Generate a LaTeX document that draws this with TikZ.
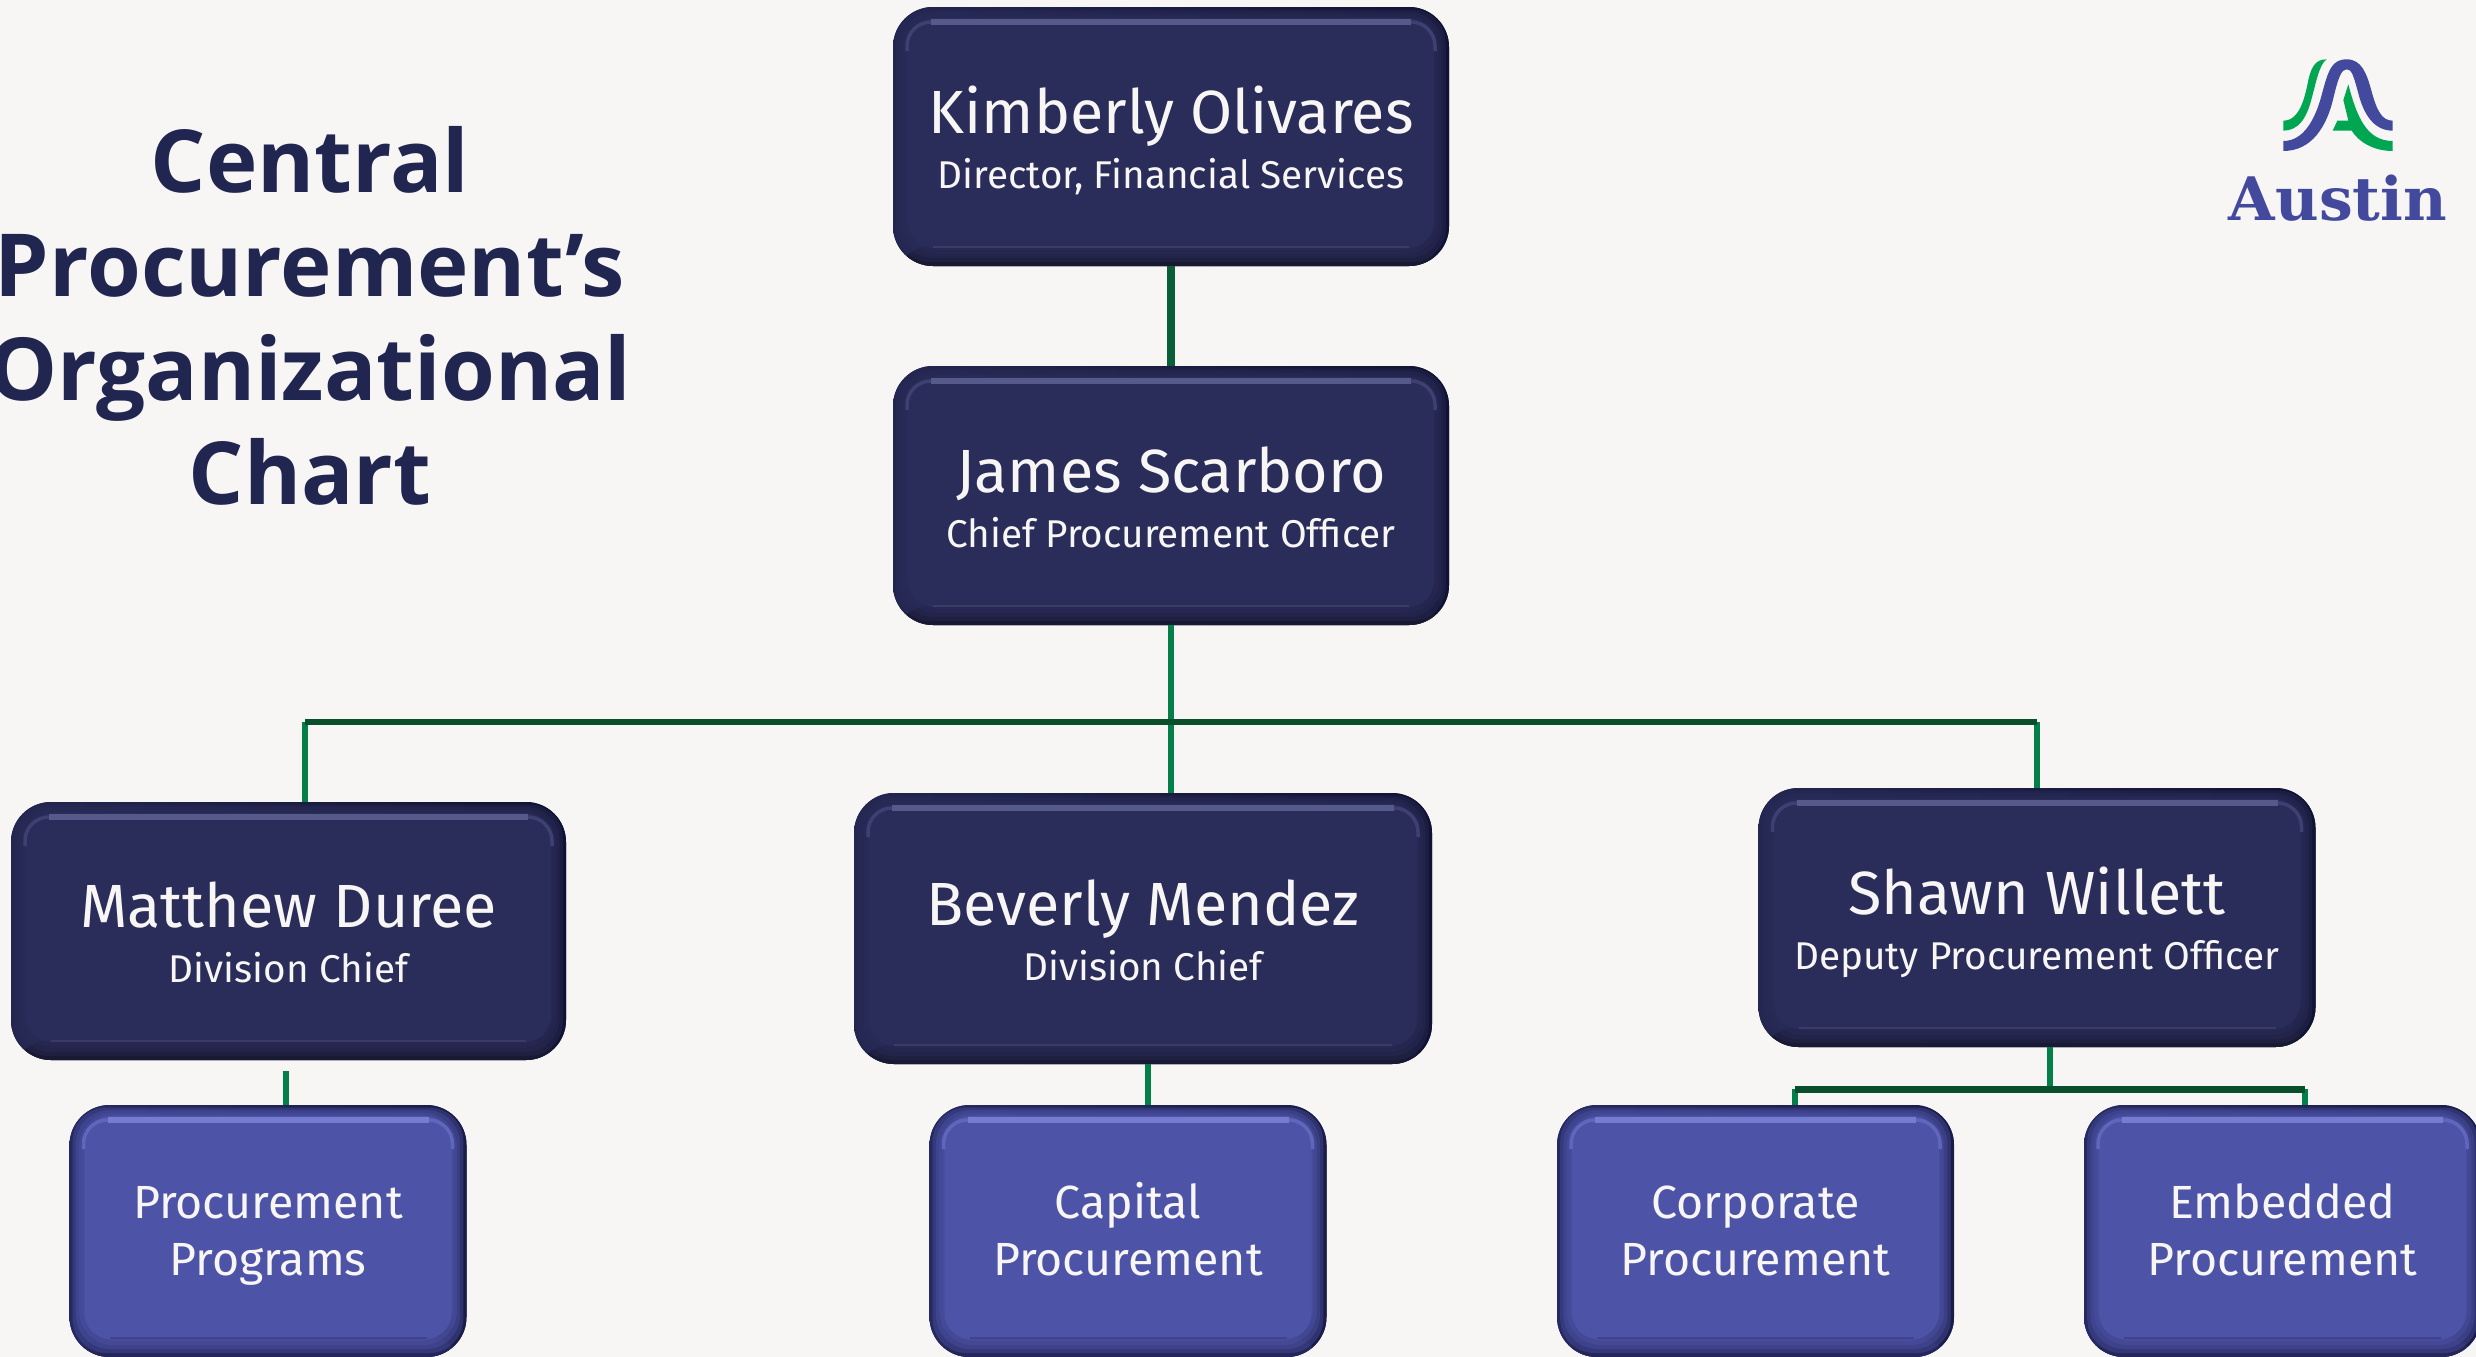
\documentclass[tikz,border=0pt]{standalone}
\usepackage{fontspec}
\setmainfont{Fira Sans}
\newfontfamily\titlefont{Open Sans}
\newfontfamily\logofont{DejaVu Serif}
\definecolor{pagebg}{HTML}{F7F6F4}
\definecolor{navy}{HTML}{2A2C59}
\definecolor{violet}{HTML}{4D53A7}
\definecolor{titlecol}{HTML}{20264F}
\definecolor{lineg}{HTML}{057F4A}
\definecolor{topg}{HTML}{0A5F38}
\definecolor{busg}{HTML}{0A4F2C}
\definecolor{logob}{HTML}{434A9E}
\definecolor{logog}{HTML}{00A651}
\definecolor{navyl}{HTML}{232650}
\definecolor{navyr}{HTML}{111333}
\definecolor{navyb}{HTML}{181932}
\definecolor{navyh}{HTML}{565A8A}
\definecolor{navym}{HTML}{3D4070}
\definecolor{navys}{HTML}{3A3C66}
\definecolor{violl}{HTML}{262A62}
\definecolor{violr}{HTML}{1A1D48}
\definecolor{violb}{HTML}{25275A}
\definecolor{violh}{HTML}{767CD0}
\definecolor{violm}{HTML}{6066BC}
\definecolor{viols}{HTML}{41448C}
\newcommand{\leadtxt}[2]{\fontsize{61}{55}\selectfont\rule{0pt}{62pt}#1\\\fontsize{38.7}{55}\selectfont #2\rule[-14pt]{0pt}{14pt}}
\newcommand{\unittxt}[2]{\rule{0pt}{45pt}#1\\#2\rule[-14pt]{0pt}{14pt}}
\tikzset{
  bevel/.style n args={7}{rounded corners=40pt, inner sep=0pt, align=center, text=pagebg, fill=#2,
    path picture={
      \coordinate (NW) at (path picture bounding box.north west);
      \coordinate (NE) at (path picture bounding box.north east);
      \coordinate (SW) at (path picture bounding box.south west);
      \coordinate (SE) at (path picture bounding box.south east);
      \shade[left color=#2, right color=#3] (SW) rectangle (NE);
      \fill[#4] (SW) rectangle ([yshift=20pt]SE);
      \foreach \k in {1,...,4} {
        \fill[#1, opacity=.4, rounded corners=34pt] ([xshift=\k*3.2pt,yshift=\k*4pt]SW) rectangle ([xshift=-\k*3.2pt,yshift=-\k*2.5pt]NE);
      }
      \fill[#1, rounded corners=26pt] ([xshift=15pt,yshift=18pt]SW) rectangle ([xshift=-15pt,yshift=-11pt]NE);
      \draw[#6, line width=3.5pt, rounded corners=24pt] ([xshift=14pt,yshift=-44pt]NW) |- ([xshift=-14pt,yshift=-15pt]NE) -- ([xshift=-14pt,yshift=-44pt]NE);
      \draw[#5, line width=6pt] ([xshift=38pt,yshift=-15pt]NW) -- ([xshift=-38pt,yshift=-15pt]NE);
      \draw[#7, line width=2.5pt] ([xshift=40pt,yshift=19pt]SW) -- ([xshift=-40pt,yshift=19pt]SE);
    }},
  leadbox/.style={bevel={navy}{navyl}{navyr}{navyb}{navyh}{navym}{navys}, font=\fontsize{38.7}{55}\selectfont},
  unitbox/.style={bevel={violet}{violl}{violr}{violb}{violh}{violm}{viols},
    font=\fontsize{46.5}{57}\selectfont, minimum width=397pt, minimum height=252pt},
  vline/.style={lineg, line width=6pt},
  busline/.style={busg, line width=6.5pt},
}
\begin{document}
\begin{tikzpicture}[x=1pt,y=-1pt]
\useasboundingbox (0,0) rectangle (2476,1357);
\clip (0,0) rectangle (2476,1357);
\fill[pagebg] (0,0) rectangle (2476,1357);

\node[leadbox, minimum width=556pt, minimum height=259pt] (kim) at (1171,136.5) {\leadtxt{Kimberly Olivares}{Director, Financial Services}};
\node[leadbox, minimum width=556pt, minimum height=259pt] (james) at (1171,495.5) {\leadtxt{James Scarboro}{Chief Procurement Officer}};
\node[leadbox, minimum width=555pt, minimum height=258pt] (matthew) at (288.5,931) {\leadtxt{Matthew Duree}{Division Chief}};
\node[leadbox, minimum width=578pt, minimum height=271pt] (beverly) at (1143,928.5) {\leadtxt{Beverly Mendez}{Division Chief}};
\node[leadbox, minimum width=557pt, minimum height=259pt] (shawn) at (2037,917.5) {\leadtxt{Shawn Willett}{Deputy Procurement Officer}};
\node[unitbox] (programs) at (268,1231) {\unittxt{Procurement}{Programs}};
\node[unitbox] (capital) at (1128,1231) {\unittxt{Capital}{Procurement}};
\node[unitbox] (corporate) at (1755.5,1231) {\unittxt{Corporate}{Procurement}};
\node[unitbox] (embedded) at (2282.5,1231) {\unittxt{Embedded}{Procurement}};

\coordinate (busL) at (305,722);
\coordinate (busM) at (1171,722);
\coordinate (busR) at (2037,722);
\coordinate (stubA) at (285.5,1071);
\coordinate (stubB) at (1148,1064);
\coordinate (stubC) at (2050,1047);
\coordinate (barC) at (2050,1089);
\coordinate (barL) at (1795,1089);
\coordinate (barR) at (2305,1089);

\draw[topg, line width=7.5pt] (kim.south) -- (james.north);
\draw[vline] (james.south) -- (james.south |- beverly.north);
\draw[vline] (busL) -- (busL |- matthew.north);
\draw[vline] (busR) -- (shawn.north);
\draw[busline] (busL) -- (busM) -- (busR);
\draw[vline] (stubA) -- (stubA |- programs.north);
\draw[vline] (stubB) -- (stubB |- capital.north);
\draw[vline] (stubC) -- (barC);
\draw[vline] (barL) -- (barL |- corporate.north);
\draw[vline] (barR) -- (barR |- embedded.north);
\draw[busline, line width=7pt] (barL) -- (barC) -- (barR);

% title
\node[text=titlecol, align=center, font=\fontsize{87}{104}\selectfont\titlefont\bfseries] (title) at (310,316)
  {Central\\Procurement’s\\Organizational\\Chart};

% logo
\begin{scope}[shift={(2200,30)}, x=0.33333pt, y=-0.33333pt]
  \fill[logog] (250,272) .. controls (300,272) and (315,200) .. (325,150)
     .. controls (335,105) and (350,88) .. (380,88)
     .. controls (358,100) and (345,170) .. (335,205)
     .. controls (320,265) and (295,302) .. (250,302) -- cycle;
  \fill[logob] (250,333) .. controls (310,333) and (345,270) .. (365,195)
     .. controls (385,120) and (395,88) .. (440,88)
     .. controls (485,88) and (500,130) .. (515,185)
     .. controls (530,240) and (545,272) .. (578,272) -- (578,302)
     .. controls (520,302) and (490,250) .. (475,190)
     .. controls (460,135) and (455,118) .. (440,118)
     .. controls (425,118) and (415,140) .. (400,205)
     .. controls (380,290) and (335,363) .. (250,363) -- cycle;
  \fill[logog] (445,163) .. controls (470,260) and (500,333) .. (578,333) -- (578,363)
     .. controls (520,363) and (475,335) .. (455,302) -- (398,302) -- (412,272) -- (445,272)
     -- (430,210) -- cycle;
\end{scope}
\node[anchor=base, text=logob, inner sep=0pt, font=\fontsize{60}{60}\selectfont\logofont\bfseries] (austin) at (2338,220) {Austin};
\end{tikzpicture}
\end{document}
